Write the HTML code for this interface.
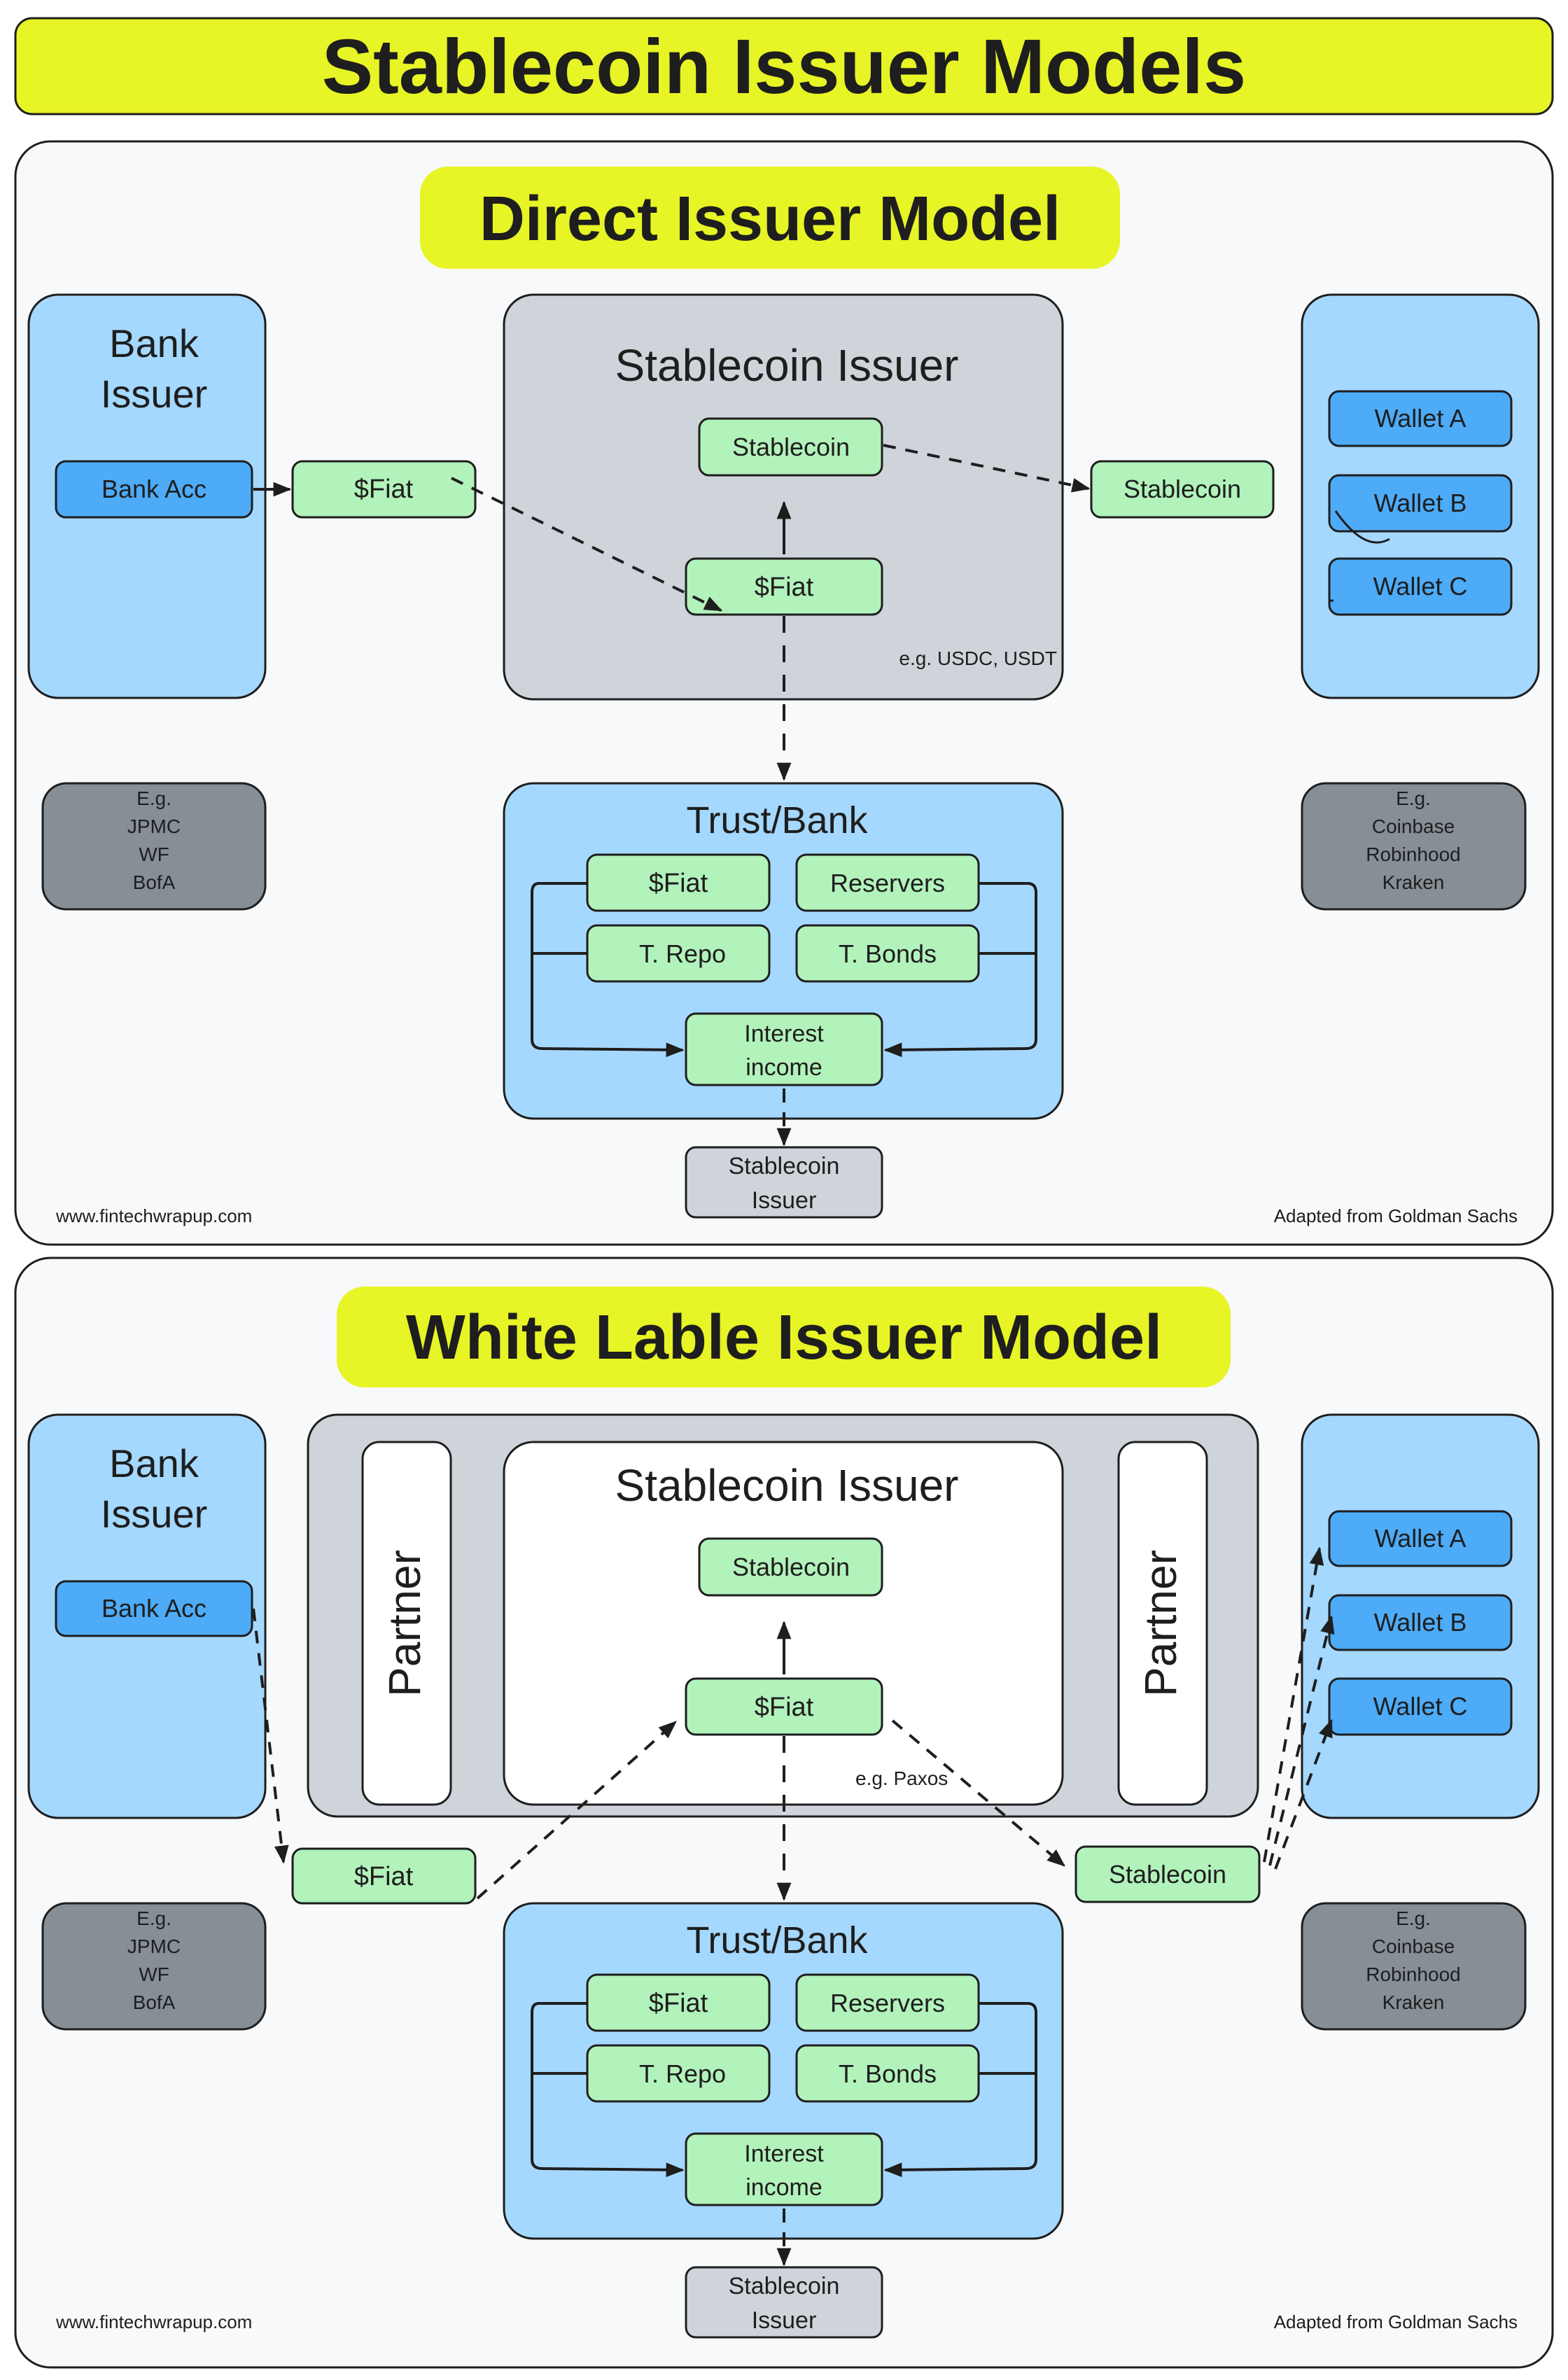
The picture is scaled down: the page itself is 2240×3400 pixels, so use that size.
<!DOCTYPE html>
<html><head><meta charset="utf-8">
<style>
html,body{margin:0;padding:0;background:#ffffff;}
svg{display:block;}
text{font-family:"Liberation Sans",sans-serif;fill:#1e1e1e;}
</style></head>
<body>
<svg xmlns="http://www.w3.org/2000/svg" width="2240" height="3400" viewBox="0 0 2240 3400">
<defs>
<marker id="ah" viewBox="0 0 10 10" refX="9" refY="5" markerWidth="9" markerHeight="9" markerUnits="userSpaceOnUse" orient="auto">
<path d="M0,0 L10,5 L0,10 z" fill="#1e1e1e"/>
</marker>
<marker id="ahs" viewBox="0 0 10 10" refX="9" refY="5" markerWidth="26" markerHeight="26" markerUnits="userSpaceOnUse" orient="auto">
<path d="M0,1 L10,5 L0,9 z" fill="#1e1e1e"/>
</marker>
</defs>
<g stroke="#1e1e1e" stroke-width="3">
<!-- Title -->
<rect x="22" y="26" width="2196" height="137" rx="24" fill="#e7f425"/>
</g>
<text x="1120" y="133" font-size="110" font-weight="bold" text-anchor="middle">Stablecoin Issuer Models</text>

<!-- ================= SECTION 1 ================= -->
<g stroke="#1e1e1e" stroke-width="3">
<rect x="22" y="202" width="2196" height="1576" rx="50" fill="#f8f9fa"/>
<rect x="600" y="238" width="1000" height="146" rx="40" fill="#e7f425" stroke="none"/>
<rect x="41" y="421" width="338" height="576" rx="42" fill="#a5d8ff"/>
<rect x="720" y="421" width="798" height="578" rx="42" fill="#ced4da"/>
<rect x="1860" y="421" width="338" height="576" rx="42" fill="#a5d8ff"/>
<rect x="80" y="659" width="280" height="80" rx="14" fill="#4dabf7"/>
<rect x="418" y="659" width="261" height="80" rx="14" fill="#b2f2bb"/>
<rect x="999" y="598" width="261" height="81" rx="14" fill="#b2f2bb"/>
<rect x="980" y="798" width="280" height="80" rx="14" fill="#b2f2bb"/>
<rect x="1559" y="659" width="260" height="80" rx="14" fill="#b2f2bb"/>
<rect x="1899" y="559" width="260" height="78" rx="14" fill="#4dabf7"/>
<rect x="1899" y="679" width="260" height="80" rx="14" fill="#4dabf7"/>
<rect x="1899" y="798" width="260" height="80" rx="14" fill="#4dabf7"/>
<rect x="61" y="1119" width="318" height="180" rx="34" fill="#868e96"/>
<rect x="1860" y="1119" width="319" height="180" rx="34" fill="#868e96"/>
<rect x="720" y="1119" width="798" height="479" rx="42" fill="#a5d8ff"/>
<rect x="839" y="1221" width="260" height="80" rx="14" fill="#b2f2bb"/>
<rect x="1138" y="1221" width="260" height="80" rx="14" fill="#b2f2bb"/>
<rect x="839" y="1322" width="260" height="80" rx="14" fill="#b2f2bb"/>
<rect x="1138" y="1322" width="260" height="80" rx="14" fill="#b2f2bb"/>
<rect x="980" y="1448" width="280" height="102" rx="14" fill="#b2f2bb"/>
<rect x="980" y="1639" width="280" height="100" rx="14" fill="#ced4da"/>
</g>
<!-- arrows section 1 -->
<g stroke="#1e1e1e" stroke-width="4" fill="none">
<line x1="362" y1="699" x2="414" y2="699" marker-end="url(#ahs)"/>
<line x1="645" y1="683" x2="1030" y2="872" stroke-dasharray="18 14" marker-end="url(#ahs)"/>
<line x1="1120" y1="792" x2="1120" y2="718" marker-end="url(#ahs)"/>
<line x1="1262" y1="636" x2="1555" y2="698" stroke-dasharray="18 14" marker-end="url(#ahs)"/>
<line x1="1120" y1="880" x2="1120" y2="1113" stroke-dasharray="24 18" marker-end="url(#ahs)"/>
<path d="M1908,730 Q1950,790 1985,770" stroke-width="3"/>
<path d="M1905,858 L1898,858" stroke-width="3"/>
<path d="M839,1262 L770,1262 Q760,1262 760,1275 L760,1485 Q760,1498 775,1498 L975,1500" marker-end="url(#ahs)"/>
<path d="M839,1362 L760,1362"/>
<path d="M1398,1262 L1468,1262 Q1480,1262 1480,1275 L1480,1485 Q1480,1498 1465,1498 L1265,1500" marker-end="url(#ahs)"/>
<path d="M1398,1362 L1480,1362"/>
<line x1="1120" y1="1555" x2="1120" y2="1635" stroke-dasharray="20 14" marker-end="url(#ahs)"/>
</g>
<!-- text section 1 -->
<text x="1100" y="343" font-size="90" font-weight="bold" text-anchor="middle">Direct Issuer Model</text>
<text x="220" y="510" font-size="56" text-anchor="middle">Bank</text>
<text x="220" y="582" font-size="56" text-anchor="middle">Issuer</text>
<text x="1124" y="544" font-size="64" text-anchor="middle">Stablecoin Issuer</text>
<text x="220" y="711" font-size="36" text-anchor="middle">Bank Acc</text>
<text x="548" y="711" font-size="38" text-anchor="middle">$Fiat</text>
<text x="1130" y="651" font-size="36" text-anchor="middle">Stablecoin</text>
<text x="1120" y="851" font-size="38" text-anchor="middle">$Fiat</text>
<text x="1689" y="711" font-size="36" text-anchor="middle">Stablecoin</text>
<text x="2029" y="610" font-size="36" text-anchor="middle">Wallet A</text>
<text x="2029" y="731" font-size="36" text-anchor="middle">Wallet B</text>
<text x="2029" y="850" font-size="36" text-anchor="middle">Wallet C</text>
<text x="1510" y="950" font-size="28" text-anchor="end">e.g. USDC, USDT</text>
<text x="220" y="1150" font-size="28" text-anchor="middle">E.g.</text>
<text x="220" y="1190" font-size="28" text-anchor="middle">JPMC</text>
<text x="220" y="1230" font-size="28" text-anchor="middle">WF</text>
<text x="220" y="1270" font-size="28" text-anchor="middle">BofA</text>
<text x="2019" y="1150" font-size="28" text-anchor="middle">E.g.</text>
<text x="2019" y="1190" font-size="28" text-anchor="middle">Coinbase</text>
<text x="2019" y="1230" font-size="28" text-anchor="middle">Robinhood</text>
<text x="2019" y="1270" font-size="28" text-anchor="middle">Kraken</text>
<text x="1110" y="1190" font-size="54" text-anchor="middle">Trust/Bank</text>
<text x="969" y="1274" font-size="38" text-anchor="middle">$Fiat</text>
<text x="1268" y="1274" font-size="36" text-anchor="middle">Reservers</text>
<text x="975" y="1375" font-size="36" text-anchor="middle">T. Repo</text>
<text x="1268" y="1375" font-size="36" text-anchor="middle">T. Bonds</text>
<text x="1120" y="1488" font-size="34" text-anchor="middle">Interest</text>
<text x="1120" y="1536" font-size="34" text-anchor="middle">income</text>
<text x="1120" y="1677" font-size="34" text-anchor="middle">Stablecoin</text>
<text x="1120" y="1726" font-size="34" text-anchor="middle">Issuer</text>
<text x="80" y="1746" font-size="26">www.fintechwrapup.com</text>
<text x="2168" y="1746" font-size="26" text-anchor="end">Adapted from Goldman Sachs</text>

<!-- ================= SECTION 2 ================= -->
<g stroke="#1e1e1e" stroke-width="3">
<rect x="22" y="1797" width="2196" height="1585" rx="50" fill="#f8f9fa"/>
<rect x="481" y="1838" width="1277" height="144" rx="40" fill="#e7f425" stroke="none"/>
<rect x="41" y="2021" width="338" height="576" rx="42" fill="#a5d8ff"/>
<rect x="440" y="2021" width="1357" height="574" rx="42" fill="#ced4da"/>
<rect x="518" y="2060" width="126" height="518" rx="24" fill="#ffffff"/>
<rect x="1598" y="2060" width="126" height="518" rx="24" fill="#ffffff"/>
<rect x="720" y="2060" width="798" height="518" rx="42" fill="#ffffff"/>
<rect x="1860" y="2021" width="338" height="576" rx="42" fill="#a5d8ff"/>
<rect x="80" y="2259" width="280" height="78" rx="14" fill="#4dabf7"/>
<rect x="418" y="2641" width="261" height="78" rx="14" fill="#b2f2bb"/>
<rect x="999" y="2198" width="261" height="81" rx="14" fill="#b2f2bb"/>
<rect x="980" y="2398" width="280" height="80" rx="14" fill="#b2f2bb"/>
<rect x="1537" y="2638" width="262" height="79" rx="14" fill="#b2f2bb"/>
<rect x="1899" y="2159" width="260" height="78" rx="14" fill="#4dabf7"/>
<rect x="1899" y="2279" width="260" height="78" rx="14" fill="#4dabf7"/>
<rect x="1899" y="2398" width="260" height="80" rx="14" fill="#4dabf7"/>
<rect x="61" y="2719" width="318" height="180" rx="34" fill="#868e96"/>
<rect x="1860" y="2719" width="319" height="180" rx="34" fill="#868e96"/>
<rect x="720" y="2719" width="798" height="479" rx="42" fill="#a5d8ff"/>
<rect x="839" y="2821" width="260" height="80" rx="14" fill="#b2f2bb"/>
<rect x="1138" y="2821" width="260" height="80" rx="14" fill="#b2f2bb"/>
<rect x="839" y="2922" width="260" height="80" rx="14" fill="#b2f2bb"/>
<rect x="1138" y="2922" width="260" height="80" rx="14" fill="#b2f2bb"/>
<rect x="980" y="3048" width="280" height="102" rx="14" fill="#b2f2bb"/>
<rect x="980" y="3239" width="280" height="100" rx="14" fill="#ced4da"/>
</g>
<g stroke="#1e1e1e" stroke-width="4" fill="none">
<line x1="362" y1="2298" x2="405" y2="2660" stroke-dasharray="18 14" marker-end="url(#ahs)"/>
<line x1="682" y1="2712" x2="965" y2="2460" stroke-dasharray="18 14" marker-end="url(#ahs)"/>
<line x1="1120" y1="2392" x2="1120" y2="2318" marker-end="url(#ahs)"/>
<line x1="1275" y1="2458" x2="1520" y2="2665" stroke-dasharray="18 14" marker-end="url(#ahs)"/>
<line x1="1120" y1="2480" x2="1120" y2="2713" stroke-dasharray="24 18" marker-end="url(#ahs)"/>
<line x1="1806" y1="2660" x2="1885" y2="2212" stroke-dasharray="18 14" marker-end="url(#ahs)"/>
<line x1="1814" y1="2665" x2="1902" y2="2310" stroke-dasharray="18 14" marker-end="url(#ahs)"/>
<line x1="1822" y1="2670" x2="1902" y2="2458" stroke-dasharray="18 14" marker-end="url(#ahs)"/>
<path d="M839,2862 L770,2862 Q760,2862 760,2875 L760,3085 Q760,3098 775,3098 L975,3100" marker-end="url(#ahs)"/>
<path d="M839,2962 L760,2962"/>
<path d="M1398,2862 L1468,2862 Q1480,2862 1480,2875 L1480,3085 Q1480,3098 1465,3098 L1265,3100" marker-end="url(#ahs)"/>
<path d="M1398,2962 L1480,2962"/>
<line x1="1120" y1="3155" x2="1120" y2="3235" stroke-dasharray="20 14" marker-end="url(#ahs)"/>
</g>
<text x="1120" y="1941" font-size="90" font-weight="bold" text-anchor="middle">White Lable Issuer Model</text>
<text x="220" y="2110" font-size="56" text-anchor="middle">Bank</text>
<text x="220" y="2182" font-size="56" text-anchor="middle">Issuer</text>
<text x="1124" y="2144" font-size="64" text-anchor="middle">Stablecoin Issuer</text>
<text transform="translate(600,2319) rotate(-90)" font-size="64" text-anchor="middle">Partner</text>
<text transform="translate(1680,2319) rotate(-90)" font-size="64" text-anchor="middle">Partner</text>
<text x="220" y="2310" font-size="36" text-anchor="middle">Bank Acc</text>
<text x="548" y="2693" font-size="38" text-anchor="middle">$Fiat</text>
<text x="1130" y="2251" font-size="36" text-anchor="middle">Stablecoin</text>
<text x="1120" y="2451" font-size="38" text-anchor="middle">$Fiat</text>
<text x="1668" y="2690" font-size="36" text-anchor="middle">Stablecoin</text>
<text x="2029" y="2210" font-size="36" text-anchor="middle">Wallet A</text>
<text x="2029" y="2330" font-size="36" text-anchor="middle">Wallet B</text>
<text x="2029" y="2450" font-size="36" text-anchor="middle">Wallet C</text>
<text x="1222" y="2550" font-size="28">e.g. Paxos</text>
<text x="220" y="2750" font-size="28" text-anchor="middle">E.g.</text>
<text x="220" y="2790" font-size="28" text-anchor="middle">JPMC</text>
<text x="220" y="2830" font-size="28" text-anchor="middle">WF</text>
<text x="220" y="2870" font-size="28" text-anchor="middle">BofA</text>
<text x="2019" y="2750" font-size="28" text-anchor="middle">E.g.</text>
<text x="2019" y="2790" font-size="28" text-anchor="middle">Coinbase</text>
<text x="2019" y="2830" font-size="28" text-anchor="middle">Robinhood</text>
<text x="2019" y="2870" font-size="28" text-anchor="middle">Kraken</text>
<text x="1110" y="2790" font-size="54" text-anchor="middle">Trust/Bank</text>
<text x="969" y="2874" font-size="38" text-anchor="middle">$Fiat</text>
<text x="1268" y="2874" font-size="36" text-anchor="middle">Reservers</text>
<text x="975" y="2975" font-size="36" text-anchor="middle">T. Repo</text>
<text x="1268" y="2975" font-size="36" text-anchor="middle">T. Bonds</text>
<text x="1120" y="3088" font-size="34" text-anchor="middle">Interest</text>
<text x="1120" y="3136" font-size="34" text-anchor="middle">income</text>
<text x="1120" y="3277" font-size="34" text-anchor="middle">Stablecoin</text>
<text x="1120" y="3326" font-size="34" text-anchor="middle">Issuer</text>
<text x="80" y="3326" font-size="26">www.fintechwrapup.com</text>
<text x="2168" y="3326" font-size="26" text-anchor="end">Adapted from Goldman Sachs</text>
</svg>
</body></html>
